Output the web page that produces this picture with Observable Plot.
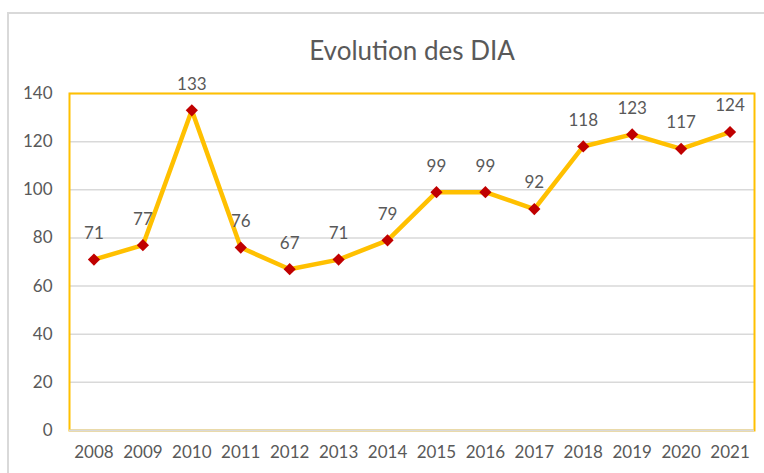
<!DOCTYPE html>
<html><head><meta charset="utf-8">
<script src="https://cdn.jsdelivr.net/npm/d3@7"></script>
<script src="https://cdn.jsdelivr.net/npm/@observablehq/plot@0.6"></script>
<style>
body{margin:0;background:#fff;overflow:hidden;}
#wrap{position:relative;width:764px;height:473px;}
#box{position:absolute;left:7px;top:12px;width:800px;height:500px;border:2px solid #d9d9d9;box-sizing:border-box;}
#chart{position:absolute;left:0;top:0;}
</style></head>
<body><div id="wrap"><div id="box"></div><div id="chart"></div></div>
<script>
const years = ["2008","2009","2010","2011","2012","2013","2014","2015","2016","2017","2018","2019","2020","2021"];
const values = [71,77,133,76,67,71,79,99,99,92,118,123,117,124];
const yTicks = [0,20,40,60,80,100,120,140];
const title = "Evolution des DIA";
const data = years.map((y,i)=>({year:y, value:values[i]}));
const font = "Lato, 'Open Sans', sans-serif";
const plot = Plot.plot({
  width:764, height:473,
  marginLeft:69, marginRight:10, marginTop:93, marginBottom:43,
  style:{fontFamily:font, fontSize:"17px", color:"#595959", background:"transparent"},
  x:{type:"point", domain:years, padding:0.5, round:false, label:null},
  y:{domain:[0,140], label:null},
  marks:[
    Plot.gridY(yTicks,{stroke:"#d9d9d9", strokeOpacity:1, strokeWidth:1.5}),
    Plot.frame({stroke:"#ffc000", strokeWidth:2}),
    Plot.ruleY([0],{stroke:"#d9d9d9", strokeWidth:2}),
    Plot.axisY(yTicks,{tickSize:0, tickPadding:17, fill:"#595959", fontSize:17}),
    Plot.axisX({tickSize:0, tickPadding:15, fill:"#595959", fontSize:17}),
    Plot.line(data,{x:"year", y:"value", stroke:"#ffc000", strokeWidth:4.5, strokeLinejoin:"round"}),
    Plot.dot(data,{x:"year", y:"value", symbol:"diamond2", r:5.5, fill:"#c00000", stroke:"none"}),
    Plot.text(data,{x:"year", y:"value", text:d=>String(d.value), dy:-26, fill:"#595959", fontSize:17}),
    Plot.text([title],{frameAnchor:"top", dy:-52, text:d=>d, fill:"#595959", fontSize:26})
  ]
});
document.getElementById("chart").appendChild(plot);
</script></body></html>
